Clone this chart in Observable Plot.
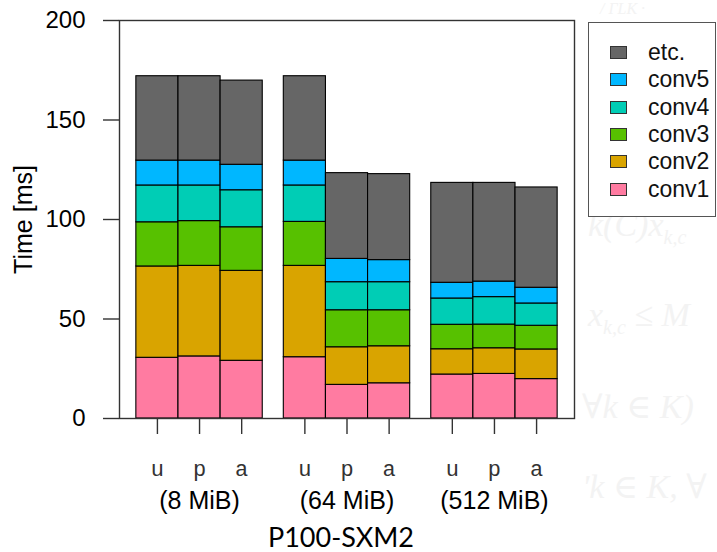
<!DOCTYPE html>
<html>
<head>
<meta charset="utf-8">
<script src="https://cdn.jsdelivr.net/npm/d3@7"></script>
<script src="https://cdn.jsdelivr.net/npm/@observablehq/plot@0.6"></script>
<style>
  body { margin: 0; background: #fff; }
  #wrap { position: relative; width: 717px; height: 552px; overflow: hidden; background: #fff;
          font-family: "Liberation Sans", Arimo, Arial, sans-serif; }
  #chart { position: absolute; left: 0; top: 0; }
  .faint { position: absolute; color: #f3f3f3; font-family: "Liberation Serif", "DejaVu Serif", serif;
           font-style: italic; font-size: 34px; white-space: nowrap; line-height: 1; }
  .faint sub { font-size: 20px; }
  #legend { position: absolute; left: 588px; top: 22px; width: 128px; height: 195px;
            border: 1.5px solid #555; background: #fff; box-sizing: border-box; padding-top: 16px; }
  .row { height: 27.3px; display: flex; align-items: center; }
  .sw { width: 17px; height: 13px; margin-left: 21px; border: 1.5px solid #333; box-sizing: border-box; }
  .lab { margin-left: 21px; font-size: 23px; color: #111; }
</style>
</head>
<body>
<div id="wrap">
  <div id="chart"></div>
  <div class="faint" style="left:600px;top:1px;font-size:16px;">/ ΓLK ·</div>
  <div class="faint" style="left:588px;top:208px;">k(C)x<sub>k,c</sub></div>
  <div class="faint" style="left:588px;top:298px;">x<sub>k,c</sub> ≤ M</div>
  <div class="faint" style="left:582px;top:390px;">∀k ∈ K)</div>
  <div class="faint" style="left:582px;top:470px;">'k ∈ K, ∀</div>
  <div id="legend"></div>
</div>
<script>
// ---- data ----
const groups = ["(8 MiB)", "(64 MiB)", "(512 MiB)"];
const modes = ["u", "p", "a"];
const layers = ["conv1", "conv2", "conv3", "conv4", "conv5", "etc."];
const colors = ["#FF7BA1", "#D9A400", "#57C100", "#00CDB5", "#00B7FF", "#666666"];
const conv1 = [30.5, 31.2, 29.0, 30.8, 16.9, 17.7, 22.1, 22.4, 19.8];
const conv2 = [45.9, 45.5, 45.2, 45.9, 18.9, 18.6, 12.7, 12.9, 14.9];
const conv3 = [22.2, 22.5, 21.9, 22.1, 18.6, 18.1, 12.3, 11.9, 11.9];
const conv4 = [18.5, 17.9, 18.6, 18.3, 14.1, 14.1, 13.2, 13.8, 11.2];
const conv5 = [12.5, 12.5, 12.8, 12.5, 11.7, 11.1, 7.9, 7.8, 7.9];
const etc = [42.4, 42.4, 42.3, 42.4, 43.1, 43.2, 50.2, 49.6, 50.4];
const yTicks = [0, 50, 100, 150, 200];
const xTitle = "P100-SXM2";
const yTitle = "Time [ms]";

// ---- table (barplot-style positions: bars of width 1, half-bar gap between groups) ----
const series = [conv1, conv2, conv3, conv4, conv5, etc];
const rows = [];
const barCenters = [];
const centerMode = new Map();
const groupCenters = [];
const centerGroup = new Map();
for (let b = 0; b < 9; b++) {
  const g = Math.floor(b / 3), m = b % 3;
  const x1 = b + 0.5 * g, x2 = x1 + 1, c = (x1 + x2) / 2;
  barCenters.push(c);
  centerMode.set(c, modes[m]);
  if (m === 1) { groupCenters.push(c); centerGroup.set(c, groups[g]); }
  layers.forEach((layer, k) => rows.push({bar: b, group: groups[g], mode: modes[m], x1, x2, layer, value: series[k][b]}));
}

const chart = Plot.plot({
  width: 717,
  height: 552,
  marginLeft: 119,
  marginRight: 143,
  marginTop: 20,
  marginBottom: 134,
  style: {fontFamily: "'Liberation Sans', Arimo, Arial, sans-serif", background: "white", color: "black"},
  x: {domain: [-0.4, 10.4]},
  y: {domain: [0, 200]},
  color: {domain: layers, range: colors},
  marks: [
    Plot.rectY(rows, {x1: "x1", x2: "x2", y: "value", fill: "layer", stroke: "black", strokeWidth: 1.1, order: layers}),
    Plot.frame({stroke: "#333", strokeWidth: 1.4}),
    Plot.axisY({ticks: yTicks, tickSize: 16, tickPadding: 18, fontSize: 24, stroke: "#333", strokeWidth: 1.4, label: null}),
    Plot.text([yTitle], {frameAnchor: "left", textAnchor: "middle", lineAnchor: "middle", rotate: -90, dx: -96, fontSize: 25, fill: "black"}),
    Plot.axisX({ticks: barCenters, tickFormat: d => centerMode.get(d), tickSize: 16, tickPadding: 26,
                fontSize: 22, fontFamily: "'Liberation Mono', 'DejaVu Sans Mono', monospace", fill: "#333", stroke: "#333", strokeWidth: 1.4, label: null}),
    Plot.axisX({ticks: groupCenters, tickFormat: d => centerGroup.get(d), tickSize: 0, tickPadding: 73,
                fontSize: 25, label: null}),
    Plot.text([xTitle], {frameAnchor: "bottom", lineAnchor: "top", dy: 109, dx: -6, fontSize: 27, fontFamily: "Lato, sans-serif", fill: "black"})
  ]
});
document.getElementById("chart").appendChild(chart);

// ---- legend ----
const legend = document.getElementById("legend");
layers.slice().reverse().forEach(layer => {
  const row = document.createElement("div");
  row.className = "row";
  const sw = document.createElement("div");
  sw.className = "sw";
  sw.style.background = colors[layers.indexOf(layer)];
  const lab = document.createElement("span");
  lab.className = "lab";
  lab.textContent = layer;
  row.appendChild(sw);
  row.appendChild(lab);
  legend.appendChild(row);
});
</script>
</body>
</html>
